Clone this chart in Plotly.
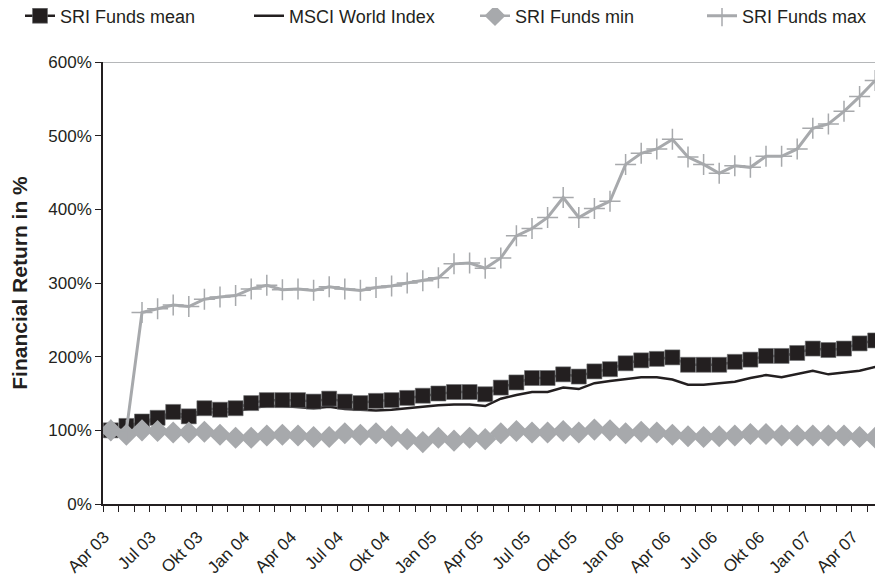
import plotly.graph_objects as go

months = [
    "Apr 03", "Mai 03", "Jun 03", "Jul 03", "Aug 03", "Sep 03", "Okt 03", "Nov 03", "Dez 03",
    "Jan 04", "Feb 04", "Mär 04", "Apr 04", "Mai 04", "Jun 04", "Jul 04", "Aug 04", "Sep 04",
    "Okt 04", "Nov 04", "Dez 04", "Jan 05", "Feb 05", "Mär 05", "Apr 05", "Mai 05", "Jun 05",
    "Jul 05", "Aug 05", "Sep 05", "Okt 05", "Nov 05", "Dez 05", "Jan 06", "Feb 06", "Mär 06",
    "Apr 06", "Mai 06", "Jun 06", "Jul 06", "Aug 06", "Sep 06", "Okt 06", "Nov 06", "Dez 06",
    "Jan 07", "Feb 07", "Mär 07", "Apr 07", "Mai 07",
]

sri_mean = [100, 106, 112, 117, 125, 119, 130, 128, 130, 137, 141, 141, 141, 139, 143, 139, 137,
            140, 141, 144, 147, 150, 152, 152, 149, 158, 165, 171, 171, 176, 173, 180, 183, 191,
            195, 197, 199, 189, 189, 189, 193, 196, 201, 201, 205, 211, 209, 211, 218, 222]
msci_world = [100, 104, 110, 115, 120, 117, 125, 124, 126, 130, 133, 133, 132, 130, 132, 129, 128,
              127, 128, 130, 132, 134, 135, 135, 133, 143, 148, 152, 152, 158, 156, 164, 167, 170,
              172, 172, 169, 162, 162, 164, 166, 171, 175, 172, 177, 181, 176, 178, 181, 186]
sri_min = [100, 94, 100, 99, 97, 97, 98, 94, 90, 90, 93, 94, 93, 91, 91, 96, 94,
           96, 92, 88, 84, 90, 86, 90, 88, 96, 99, 97, 97, 99, 97, 101, 100, 96,
           98, 97, 94, 92, 91, 92, 93, 95, 95, 93, 93, 93, 93, 93, 91, 90]
sri_max = [100, 100, 260, 265, 270, 268, 278, 281, 283, 292, 297, 291, 292, 290, 295, 292, 290,
           294, 296, 300, 303, 307, 326, 327, 320, 334, 364, 374, 389, 416, 389, 401, 411, 461,
           476, 482, 495, 471, 461, 449, 459, 457, 472, 472, 482, 510, 516, 533, 553, 575]

y_ticks = [0, 100, 200, 300, 400, 500, 600]

x = list(range(len(months)))
black = "#231f20"
grey = "#a7a9ac"
font = "Liberation Sans, Arial, sans-serif"
W, H = 899, 577

fig = go.Figure()

fig.add_trace(go.Scatter(
    x=x, y=msci_world, name="MSCI World Index", mode="lines",
    line=dict(color=black, width=2.5), legend="legend2",
))
fig.add_trace(go.Scatter(
    x=x, y=sri_mean, name="SRI Funds mean", mode="lines+markers",
    line=dict(color=black, width=2.5),
    marker=dict(symbol="square", size=15, color=black, line=dict(color="#6d6e71", width=0.6)),
    legend="legend",
))
fig.add_trace(go.Scatter(
    x=x, y=sri_min, name="SRI Funds min", mode="lines+markers",
    line=dict(color=grey, width=2.5),
    marker=dict(symbol="diamond", size=17, color=grey),
    legend="legend3",
))
fig.add_trace(go.Scatter(
    x=x, y=sri_max, name="SRI Funds max", mode="lines+markers",
    line=dict(color=grey, width=3),
    marker=dict(symbol="cross-thin", size=15, line=dict(color=grey, width=1.5)),
    legend="legend4",
))


def legend_at(px):
    return dict(
        orientation="h", xref="container", yref="container",
        x=px / W, y=1 - 8 / H, xanchor="left", yanchor="middle",
        font=dict(size=18, color=black), itemwidth=30, bgcolor="rgba(0,0,0,0)",
    )


fig.update_layout(
    width=W, height=H,
    margin=dict(l=95, r=24, t=54, b=81),
    paper_bgcolor="white", plot_bgcolor="white",
    font=dict(family=font, size=17, color=black),
    showlegend=True,
    legend=legend_at(12),
    legend2=legend_at(241),
    legend3=legend_at(467),
    legend4=legend_at(694),
)

fig.update_xaxes(
    range=[-0.5, len(months) - 0.5],
    tickmode="array", tickvals=x[::3],
    ticktext=[m + "\u00a0\u00a0" for m in months[::3]],
    tickangle=-45, ticks="", tickfont=dict(size=17), ticklabelstandoff=8,
    showgrid=False, zeroline=False,
    showline=True, linecolor=black, linewidth=1.5,
    minor=dict(tick0=-0.5, dtick=1, ticks="outside", ticklen=6, tickcolor=black, tickwidth=1),
    automargin=False,
)
fig.update_yaxes(
    range=[0, 600], tickmode="array", tickvals=y_ticks,
    ticktext=[f"{v}%" for v in y_ticks],
    ticks="outside", ticklen=6, tickcolor=black,
    showgrid=False, zeroline=False,
    showline=True, linecolor=black, linewidth=1.5,
    title=dict(text="<b>Financial Return in %</b>", font=dict(size=21), standoff=16),
    automargin=False,
)

fig.add_shape(type="line", xref="paper", yref="y", x0=0, x1=1, y0=600, y1=600,
              line=dict(color="#9d9fa2", width=1.5))

fig.write_html("out.html")
